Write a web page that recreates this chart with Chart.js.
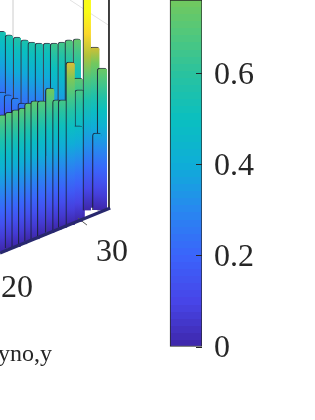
<!DOCTYPE html>
<html>
<head>
<meta charset="utf-8">
<script src="https://cdn.jsdelivr.net/npm/chart.js@4"></script>
<style>
html, body { margin: 0; padding: 0; background: #fff; }
canvas { display: block; }
</style>
</head>
<body>
<canvas id="chart" width="315" height="420"></canvas>
<script>
// back row of bars
const backX = [22.0, 22.75, 23.6, 24.4, 25.15, 25.9, 26.75, 27.5, 28.3, 29.05, 29.9];
const backTop = [.694, .686, .681, .675, .670, .668, .668, .668, .670, .675, .677];
const backBase = [.455, .44, .43, .43, .42, .42, .42, .39, .39, .38, .37];

// second row, only the tops show at the left
const midX = [22.0, 22.65, 23.4, 24.1];
const midTop = [.56, .554, .547, .536];
const midBase = [.43, .43, .42, .42];

// bars behind and around the peak
const sideX = [31.75, 32.55, 30.0, 30.2, 29.95];
const sideTop = [.659, .613, .591, .565, .486];
const sideBase = [.306, .30, .29, .28, .275];

// peak
const peakX = [30.95];
const peakTop = [.785];
const peakBase = [.30];

// front row
const frontX = [22.1, 22.8, 23.5, 24.2, 24.85, 25.5, 26.2, 27.05, 27.8, 28.4, 29.2, 32.0];
const frontTop = [.51, .516, .521, .525, .536, .541, .541, .569, .543, .543, .626, .47];
const frontBase = [.21, .217, .22, .226, .233, .237, .244, .251, .257, .262, .268, .301];

// colorbar
const cbarX = [41.38];
const cbarRange = [0, .7626];

// colormap
const cmapStops = [0, .1, .2, .3, .4, .5, .6, .7, .765, .85, .9, .95, 1];
const cmapColors = ['#3e26a8', '#4745e8', '#3b63fb', '#2887f0', '#0fadd8', '#0abfc0', '#28c2a0', '#55c878',
    '#72c85e', '#c8c030', '#f5b83a', '#fbd030', '#f9fb15'];

const xTicks = [20, 30];
const xTickY = [.128, .208];
const cbarTicks = [0, .2, .4, .6];
const cmax = .44;

function hexRgb(h) {
    return [1, 3, 5].map(i => parseInt(h.substr(i, 2), 16));
}

function cmap(t) {
    t = Math.max(0, Math.min(1, t));
    let i = 0;
    while (i < cmapStops.length - 2 && t > cmapStops[i + 1]) i++;
    const f = (t - cmapStops[i]) / (cmapStops[i + 1] - cmapStops[i]);
    const a = hexRgb(cmapColors[i]), b = hexRgb(cmapColors[i + 1]);
    const c = a.map((v, k) => Math.round(v + (b[k] - v) * f));
    return 'rgb(' + c.join(',') + ')';
}

// gradient runs from the foot of the bar up to the colour of its height
function barFill(c) {
    const yScale = c.chart.scales.y;
    if (!yScale || !c.raw || !c.chart.chartArea) return '#3b63fb';
    const [b, t] = c.raw.y;
    const y0 = yScale.getPixelForValue(b), y1 = yScale.getPixelForValue(t);
    if (!isFinite(y0) || !isFinite(y1)) return '#3b63fb';
    const g = c.chart.ctx.createLinearGradient(0, y0, 0, y1);
    const top = (t - b) / cmax;
    for (let i = 0; i <= 10; i++) {
        const h = top * i / 10;
        // upper part of the bars runs a bit hotter than the colorbar
        g.addColorStop(i / 10, cmap(h > .5 ? h + (h - .5) * .2 : h));
    }
    return g;
}

// colorbar is banded in 64 levels
function cbarFill(c) {
    const yScale = c.chart.scales.y;
    if (!yScale || !c.raw || !c.chart.chartArea) return '#3b63fb';
    const y0 = yScale.getPixelForValue(0), y1 = yScale.getPixelForValue(cbarRange[1]);
    if (!isFinite(y0) || !isFinite(y1)) return '#3b63fb';
    const g = c.chart.ctx.createLinearGradient(0, y0, 0, y1);
    const levels = Math.round(64 * cbarRange[1]);
    for (let i = 0; i < levels; i++) {
        const col = cmap((i + .5) / 64);
        g.addColorStop(i / levels, col);
        g.addColorStop((i + 1) / levels, col);
    }
    return g;
}

function bars(xs, tops, bases, order, width) {
    return {
        type: 'bar',
        data: xs.map((x, i) => ({ x: x, y: [bases[i], tops[i]] })),
        backgroundColor: barFill,
        borderColor: 'rgba(25,30,50,0.85)',
        borderWidth: { left: 1.2, top: 1, right: 0, bottom: 0 },
        borderSkipped: false,
        borderRadius: { topLeft: 3, topRight: 3, bottomLeft: 0, bottomRight: 0 },
        barThickness: width,
        order: order
    };
}

function line(xs, ys, color, width, order) {
    return {
        type: 'line',
        data: xs.map((x, i) => ({ x: x, y: ys[i] })),
        borderColor: color,
        borderWidth: width,
        pointRadius: 0,
        order: order
    };
}

// tick labels of the 3D axis and the clipped axis title
const textLabels = {
    id: 'textLabels',
    afterDraw(chart) {
        const ctx = chart.ctx;
        ctx.save();
        ctx.fillStyle = '#262626';
        ctx.textAlign = 'center';
        ctx.textBaseline = 'middle';
        ctx.font = '32px "Liberation Serif"';
        xTicks.forEach((t, i) => {
            ctx.fillText(String(t), chart.scales.x.getPixelForValue(t) + 34, chart.scales.y.getPixelForValue(xTickY[i]));
        });
        ctx.font = '24px "Liberation Serif"';
        ctx.textAlign = 'right';
        ctx.textBaseline = 'alphabetic';
        ctx.fillText('yno,y', 52, 361);
        ctx.restore();
    }
};

new Chart(document.getElementById('chart'), {
    data: {
        datasets: [
            line([23.17, 23.17], [.7626, .576], '#e2e2e2', 1, 9),
            line([29.17, 33.17], [.7626, .708], '#e2e2e2', 1, 9),
            bars(backX, backTop, backBase, 8, 8),
            bars(midX, midTop, midBase, 7, 8),
            bars(sideX, sideTop, sideBase, 6, 10),
            bars(peakX, peakTop, peakBase, 5, 8),
            bars(frontX, frontTop, frontBase, 4, 9),
            line([33.27, 33.27], [.7626, .3055], '#262626', 1, 2),
            line([21.8, 33.4], [.2066, .3055], '#28286e', 3, 1),
            line([30, 30.95], [.2835, .268], '#555555', 1, 1),
            {
                type: 'bar',
                data: cbarX.map(x => ({ x: x, y: cbarRange })),
                backgroundColor: cbarFill,
                borderColor: '#262626',
                borderWidth: 1,
                borderSkipped: false,
                barThickness: 32,
                order: 3
            }
        ]
    },
    options: {
        responsive: false,
        animation: false,
        layout: { padding: { left: 0, right: 0, top: 0, bottom: 73 } },
        datasets: { bar: { grouped: false } },
        plugins: {
            legend: { display: false },
            tooltip: { enabled: false }
        },
        scales: {
            x: {
                type: 'linear',
                offset: false,
                display: false,
                min: 21.8,
                max: 43.06
            },
            y: {
                position: 'right',
                min: 0,
                max: .7626,
                afterBuildTicks(scale) { scale.ticks = cbarTicks.map(v => ({ value: v })); },
                afterFit(scale) {
                    scale.width = 113;
                    scale.paddingTop = 0;
                    scale.paddingBottom = 0;
                },
                border: { display: false },
                grid: { drawOnChartArea: false, tickLength: -6, tickColor: '#262626', tickWidth: 1, z: 1 },
                ticks: {
                    padding: 18,
                    labelOffset: 2,
                    color: '#262626',
                    font: { family: '"Liberation Serif"', size: 32 },
                    callback: v => (v === 0 ? '0' : v.toFixed(1))
                }
            }
        }
    },
    plugins: [textLabels]
});
</script>
</body>
</html>
